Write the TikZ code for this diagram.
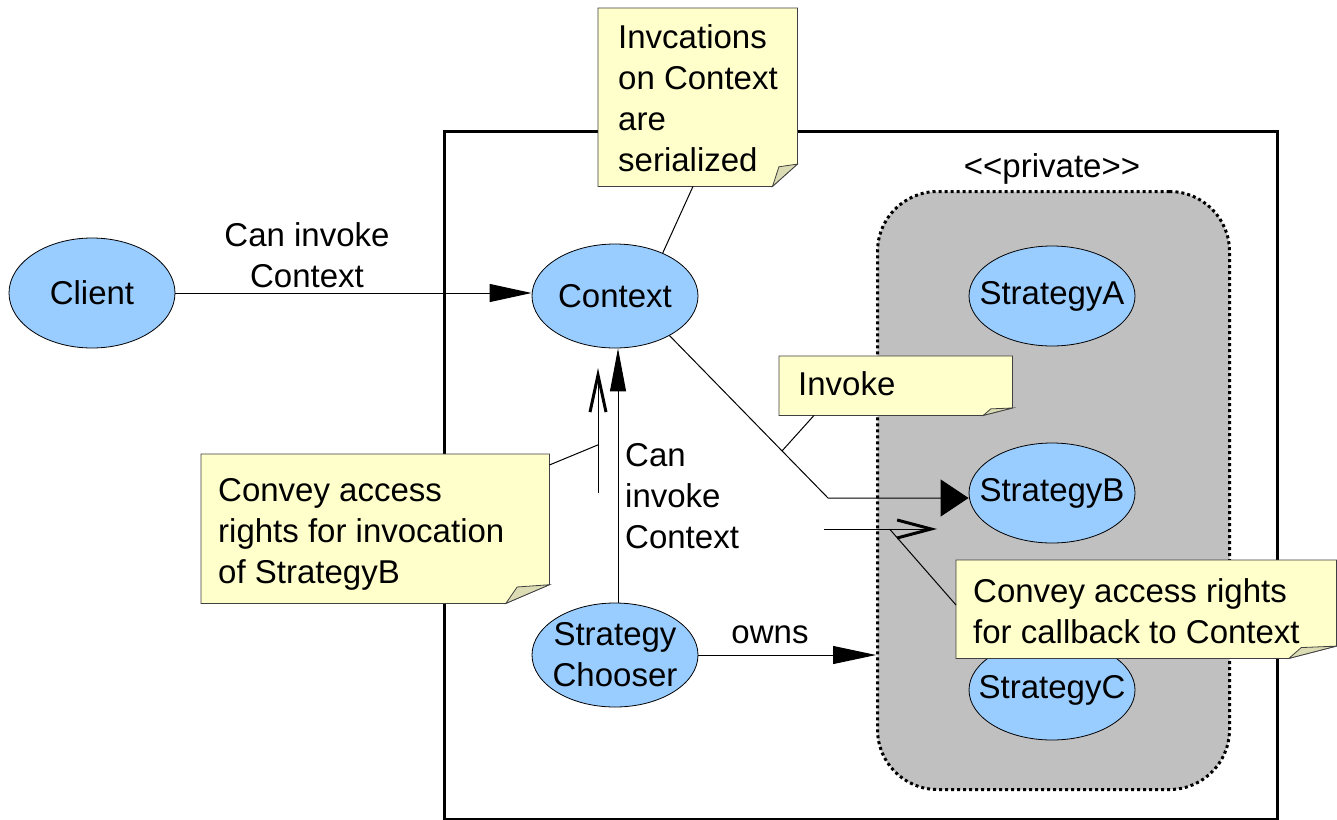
\documentclass[tikz,border=0pt]{standalone}
\usepackage{fontspec}
\setmainfont{Liberation Sans}
\usetikzlibrary{arrows.meta,calc,shapes.geometric}
\definecolor{ellfill}{HTML}{99CCFF}
\definecolor{notefill}{HTML}{FFFFCC}
\definecolor{foldfill}{HTML}{DCDCB4}
\definecolor{notedraw}{HTML}{404040}
\definecolor{privfill}{HTML}{C0C0C0}
\tikzset{
  ell/.style={ellipse, draw=black, line width=0.8pt, fill=ellfill, minimum width=166pt, minimum height=104pt, inner sep=0pt, font=\fontsize{33}{41}\selectfont, align=center},
  lbl/.style={inner sep=0pt, font=\fontsize{33}{41}\selectfont},
  conn/.style={draw=black, line width=1pt},
  notebox/.style={inner sep=0pt, draw=none, anchor=north west},
  notetext/.style={inner sep=0pt, font=\fontsize{33}{41}\selectfont, align=left, anchor=north west},
}
\newcommand{\zb}[1]{\makebox[0pt]{#1}}
\newcommand{\drawnote}[1]{%
  \filldraw[fill=notefill, draw=notedraw, line width=0.8pt] let \p1=(#1.north west), \p2=(#1.south east), \n1={0.125*(\x2-\x1)}, \n2={0.125*(\y1-\y2)} in
    (\x1,\y1) -- (\x2,\y1) -- (\x2,\y2+\n2) -- (\x2-\n1,\y2) -- (\x1,\y2) -- cycle;
  \filldraw[fill=foldfill, draw=notedraw, line width=0.8pt] let \p1=(#1.north west), \p2=(#1.south east), \n1={0.125*(\x2-\x1)}, \n2={0.125*(\y1-\y2)} in
    (\x2-\n1,\y2) -- (\x2-0.74*\n1,\y2+0.88*\n2) -- (\x2,\y2+\n2) -- cycle;
}
\begin{document}
\begin{tikzpicture}[x=1pt,y=-1pt]
\useasboundingbox (0,0) rectangle (1337,819);
\fill[white] (0,0) rectangle (1337,819);

% system boundary
\node[draw=black, line width=3pt, minimum width=833pt, minimum height=688pt, inner sep=0pt, anchor=north west] (sys) at (443,130) {};

% private region
\node[draw=black, fill=privfill, line width=3pt, dash pattern=on 3pt off 3pt, rounded corners=60pt, minimum width=352pt, minimum height=598pt, inner sep=0pt, anchor=north west] (priv) at (876,190) {};
\node[lbl, anchor=base] (lpriv) at (1052,177) {\mbox{<}\mbox{<}private\mbox{>}\mbox{>}};

% ellipses
\node[ell, minimum height=110pt] (cl) at (92,293) {\zb{Client}};
\node[ell] (ctx) at (615,296) {\zb{Context}};
\node[ell, minimum height=100pt] (sA) at (1052,296) {\zb{StrategyA}};
\node[ell, minimum height=100pt] (sB) at (1052,493) {\zb{StrategyB}};
\node[ell, minimum height=100pt] (sC) at (1052,690) {\zb{StrategyC}};
\node[ell] (ch) at (615,655) {\zb{Strategy}\\\zb{Chooser}};

% connectors
\draw[conn, -{Triangle[length=42pt,width=18pt]}] (cl.east) -- (ctx.west |- cl.east);
\node[lbl, align=center, anchor=north] (lcan) at (307,222) {Can invoke\\Context};

\coordinate (bend) at (828,498);
\draw[conn, -{Triangle[length=28pt,width=37pt]}] (ctx.-36) -- (bend) -- (bend -| sB.west);
\coordinate (invp) at ($(ctx.-36)!0.71!(bend)$);

\draw[conn, -{Triangle[length=43pt,width=16pt]}] ($(ch.north)+(3,0)$) -- ($(ctx.south)+(3,0)$);
\node[lbl, align=left, anchor=north west] (lcan2) at (625,443) {Can\\invoke\\Context};

\coordinate (ua0) at (598,493);
\coordinate (ua1) at (598,368);
\draw[conn, -{Straight Barb[length=37pt,width=16pt,line width=3pt]}] (ua0) -- (ua1);
\coordinate (uap) at ($(ua0)!0.385!(ua1)$);

\coordinate (ra0) at (824,529);
\coordinate (ra1) at (937,529);
\draw[conn, -{Straight Barb[length=34pt,width=18pt,line width=3pt]}] (ra0) -- (ra1);
\coordinate (rap) at ($(ra0)!0.58!(ra1)$);

\draw[conn, -{Triangle[length=43pt,width=18pt]}] (ch.east) -- (ch.east -| priv.west);
\node[lbl, anchor=base] (lowns) at (770,643) {owns};

% notes
\node[notebox, minimum width=199pt, minimum height=178pt] (n1) at (598,8) {};
\drawnote{n1}
\node[notetext] (t1) at ($(n1.north west)+(20,16)$) {Invcations\\on Context\\are\\serialized};
\draw[conn] ($(n1.south west)+(95,0)$) -- (ctx.42);

\node[notebox, minimum width=233pt, minimum height=59pt] (n2) at (779,356) {};
\drawnote{n2}
\node[notetext] (t2) at ($(n2.north west)+(19,15)$) {Invoke};
\draw[conn] ($(n2.south west)+(35,0)$) -- (invp);

\node[notebox, minimum width=348pt, minimum height=149pt] (n3) at (201,454) {};
\drawnote{n3}
\node[notetext] (t3) at ($(n3.north west)+(17,24)$) {Convey access\\rights for invocation\\of StrategyB};
\draw[conn] ($(n3.north east)+(0,11)$) -- (uap);

\node[notebox, minimum width=380pt, minimum height=98pt] (n4) at (956,560) {};
\drawnote{n4}
\node[notetext] (t4) at ($(n4.north west)+(17,18)$) {Convey access rights\\for callback to Context};
\draw[conn] (rap) -- ($(n4.north west)+(0,45)$);
\end{tikzpicture}
\end{document}
